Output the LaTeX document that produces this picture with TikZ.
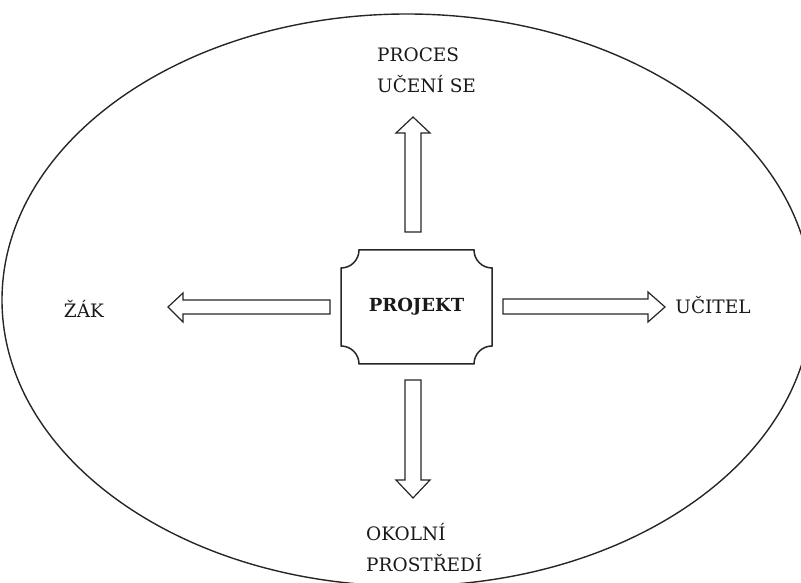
\documentclass[tikz,border=0pt]{standalone}
\usepackage{fontspec}
\setmainfont{DejaVu Serif}
\begin{document}
\begin{tikzpicture}[x=1pt,y=1pt,
  outline/.style={draw=black!85,line width=1.4pt},
  blockarrow/.style={draw=black!85,line width=1.2pt,fill=white,line join=miter},
  lbl/.style={font=\fontsize{18.5}{31}\selectfont,text=black!90,inner sep=0pt}]
\useasboundingbox (0,0) rectangle (801,583);
\begin{scope}
\clip (0,0) rectangle (801,583);
\draw[outline] (407,283) ellipse [x radius=405, y radius=286];
\end{scope}
% centre node
\node[inner sep=0pt,minimum width=151pt,minimum height=114pt,font=\fontsize{18}{20}\selectfont\bfseries,text=black!90] (proj) at (416.5,276) {PROJEKT};
\draw[outline,line width=1.5pt] (359,333) -- (474,333) arc[start angle=180,end angle=270,radius=18pt]
  -- (492,237) arc[start angle=90,end angle=180,radius=18pt]
  -- (359,219) arc[start angle=0,end angle=90,radius=18pt]
  -- (341,315) arc[start angle=-90,end angle=0,radius=18pt] -- cycle;
% labels
\node[lbl,align=left,anchor=west] (proces) at (377,512.5) {PROCES\\UČENÍ SE};
\node[lbl] (zak) at (84,274) {ŽÁK};
\node[lbl] (ucitel) at (713,278) {UČITEL};
\node[lbl,align=left,anchor=west] (okoli) at (366,35) {OKOLNÍ\\PROSTŘEDÍ};
% block arrows
\draw[blockarrow] (405,351) -- (405,450) -- (396,450) -- (413,466) -- (430,450) -- (421,450) -- (421,351) -- cycle;
\draw[blockarrow] (405,203) -- (405,103) -- (396,103) -- (413,85) -- (430,103) -- (421,103) -- (421,203) -- cycle;
\draw[blockarrow] (330,283) -- (183,283) -- (183,290) -- (168,276) -- (183,261) -- (183,269) -- (330,269) -- cycle;
\draw[blockarrow] (503,284) -- (648,284) -- (648,291) -- (665,276) -- (648,261) -- (648,269) -- (503,269) -- cycle;
\end{tikzpicture}
\end{document}
